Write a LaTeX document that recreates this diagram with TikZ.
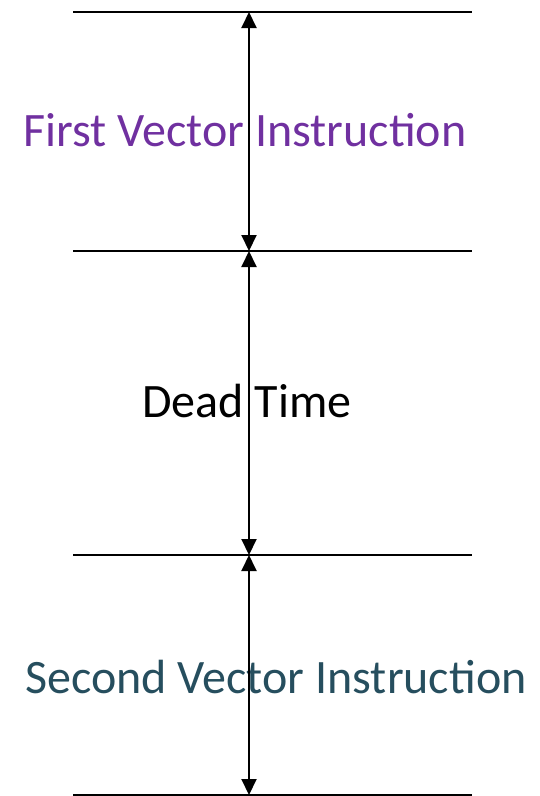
\documentclass[tikz,border=0pt]{standalone}
\usepackage{fontspec}
\setmainfont{Carlito}
\usetikzlibrary{arrows.meta}
\definecolor{firstcol}{HTML}{7030A0}
\definecolor{secondcol}{HTML}{264E5E}
\tikzset{
  boundary/.style={line width=2pt, black},
  span/.style={line width=2pt, black, {Triangle[width=15pt,length=16pt]}-{Triangle[width=15pt,length=16pt]}},
  label/.style={anchor=base, inner sep=0pt, font=\fontsize{48}{58}\selectfont}
}
\begin{document}
\begin{tikzpicture}[x=1pt,y=-1pt]
  \useasboundingbox (0,0) rectangle (540,796);
  % horizontal boundaries
  \coordinate (l0) at (73,12);   \coordinate (r0) at (472,12);
  \coordinate (l1) at (73,251);  \coordinate (r1) at (472,251);
  \coordinate (l2) at (73,555);  \coordinate (r2) at (472,555);
  \coordinate (l3) at (73,795);  \coordinate (r3) at (472,795);
  \draw[boundary] (l0) -- (r0);
  \draw[boundary] (l1) -- (r1);
  \draw[boundary] (l2) -- (r2);
  \draw[boundary] (l3) -- (r3);
  % labels
  \node[label, text=firstcol] (first) at (245,146) {First Vector Instruction};
  \node[label, text=black] (dead) at (247,417) {Dead Time};
  \node[label, text=secondcol] (second) at (276,693) {Second Vector Instruction};
  % time spans
  \coordinate (a0) at (249,12);
  \coordinate (a1) at (249,251);
  \coordinate (a2) at (249,555);
  \coordinate (a3) at (249,795);
  \draw[span] (a0) -- (a1);
  \draw[span] (a1) -- (a2);
  \draw[span] (a2) -- (a3);
\end{tikzpicture}
\end{document}
